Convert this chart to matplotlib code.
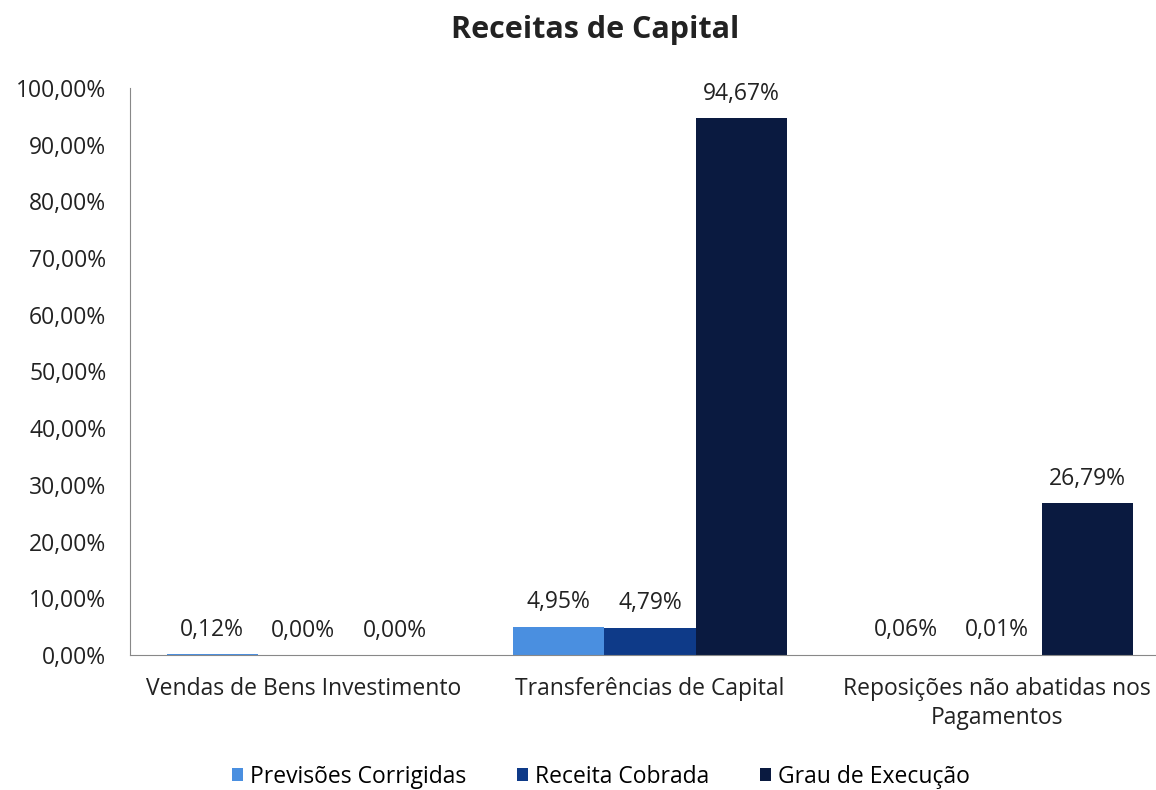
import numpy as np
import matplotlib.pyplot as plt
from matplotlib.ticker import FuncFormatter

plt.rcParams['font.family'] = ['Open Sans', 'DejaVu Sans']

categories = ['Vendas de Bens Investimento', 'Transferências de Capital',
              'Reposições não abatidas nos\nPagamentos']
series_names = ['Previsões Corrigidas', 'Receita Cobrada', 'Grau de Execução']
previsoes = [0.12, 4.95, 0.06]
receita = [0.00, 4.79, 0.01]
grau = [0.00, 94.67, 26.79]
colors = ['#4a8fe0', '#0e3a88', '#0a1a40']

fig = plt.figure(figsize=(11.56, 7.9), dpi=100)
ax = fig.add_axes([130 / 1156, 135 / 790, 1040 / 1156, 567 / 790])

x = np.arange(len(categories))
w = 0.263
for i, (vals, name, c) in enumerate(zip([previsoes, receita, grau], series_names, colors)):
    pos = x + (i - 1) * w
    ax.bar(pos, vals, w, color=c, label=name)
    for xp, v in zip(pos, vals):
        ax.annotate(f'{v:.2f}%'.replace('.', ','), (xp, v), xytext=(0, 9),
                    textcoords='offset points', ha='center', va='bottom',
                    fontsize=16.5, color='#222222')

ax.set_xlim(-0.5, 2.5)
ax.set_ylim(0, 100)
ax.set_yticks(np.arange(0, 101, 10))
ax.yaxis.set_major_formatter(FuncFormatter(lambda v, p: f'{v:.2f}%'.replace('.', ',')))
ax.set_xticks(x)
ax.set_xticklabels(categories, fontsize=16.5, color='#222222', linespacing=1.25)
ax.tick_params(axis='y', labelsize=16.5, labelcolor='#222222', length=0, pad=17)
ax.tick_params(axis='x', length=0, pad=16)

for s in ['top', 'right']:
    ax.spines[s].set_visible(False)
ax.spines['left'].set_color('#888888')
ax.spines['bottom'].set_color('#888888')

fig.text(0.515, 0.962, 'Receitas de Capital', ha='center', va='center',
         fontsize=22, fontweight='bold', color='#222222')

fig.legend(loc='center', bbox_to_anchor=(0.52, 0.017), ncol=3, frameon=False,
           fontsize=16.5, handlelength=0.5, handleheight=0.5, handletextpad=0.3,
           columnspacing=2.2)

fig.savefig('out.png', dpi=100)
